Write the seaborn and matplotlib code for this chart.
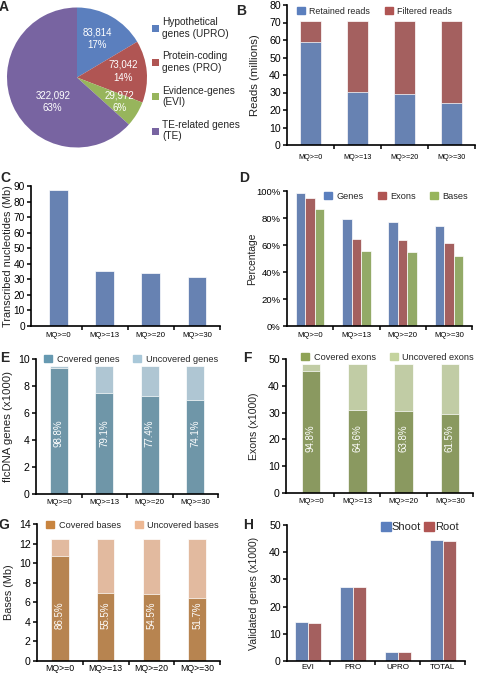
import pandas as pd
import matplotlib
matplotlib.use("Agg")
import matplotlib.pyplot as plt
from matplotlib.patches import Patch
import numpy as np
import seaborn as sns

# ---- data ----
pie_names = ["Hypothetical\ngenes (UPRO)", "Protein-coding\ngenes (PRO)",
             "Evidence-genes\n(EVI)", "TE-related genes\n(TE)"]
pie_counts = [83814, 73042, 29972, 322092]
pie_pct = ["17%", "14%", "6%", "63%"]

mq = ["MQ>=0", "MQ>=13", "MQ>=20", "MQ>=30"]

reads_total = [71, 71, 71, 71]
reads_retained = [59, 30.5, 29, 24.2]

transcribed_mb = [87.6, 35.1, 34.0, 31.3]

pct_genes = [98.8, 79.1, 77.4, 74.1]
pct_exons = [94.8, 64.6, 63.8, 61.5]
pct_bases = [86.5, 55.5, 54.5, 51.7]

flc_total = [9.45, 9.45, 9.45, 9.45]
flc_covered = [9.33, 7.48, 7.26, 6.96]
flc_labels = ["98.8%", "79.1%", "77.4%", "74.1%"]

exon_total = [48.0, 48.0, 48.0, 48.0]
exon_covered = [45.4, 30.8, 30.5, 29.4]
exon_labels = ["94.8%", "64.6%", "63.8%", "61.5%"]

base_total = [12.46, 12.46, 12.46, 12.46]
base_covered = [10.76, 6.95, 6.84, 6.47]
base_labels = ["86.5%", "55.5%", "54.5%", "51.7%"]

gene_class = ["EVI", "PRO", "UPRO", "TOTAL"]
shoot = [14.5, 27.3, 3.3, 44.5]
root = [14.0, 27.3, 3.3, 44.1]

# ---- colours ----
BLUE, RED, GREEN, PURPLE = "#5b7fbe", "#b05553", "#97b55c", "#7864a1"
TEAL, TEAL_L = "#6699b1", "#a9c8d9"
OLIVE, OLIVE_L = "#8fa356", "#c4d39e"
ORANGE, ORANGE_L = "#c8843f", "#edb894"

sns.set_theme(style="ticks")
plt.rcParams["font.family"] = ["Liberation Sans", "DejaVu Sans"]
plt.rcParams["axes.edgecolor"] = "black"

W, H = 478, 673
fig = plt.figure(figsize=(W / 100, H / 100), dpi=100)


def rect(l, t, r, b):
    return [l / W, 1 - b / H, (r - l) / W, (b - t) / H]


def fpt(x, y):
    return (x / W, 1 - y / H)


def style_ax(ax, xlim, ylim, yticks, xfs=5.5, yfs=7.5, xpad=4):
    ax.set_xlim(*xlim)
    ax.set_ylim(*ylim)
    ax.set_yticks(yticks)
    sns.despine(ax=ax)
    ax.set_xticks([0.5, 1.5, 2.5, 3.5], minor=True)
    ax.tick_params(axis="x", which="major", length=0, labelsize=xfs, pad=xpad,
                   colors="black")
    ax.tick_params(axis="x", which="minor", length=3, width=1.1, color="black")
    ax.tick_params(axis="y", length=3, width=1.1, labelsize=yfs, pad=1.5,
                   colors="black")
    for s in ["left", "bottom"]:
        ax.spines[s].set_linewidth(1.2)
    ax.set_xlabel("")


def ylab(ax, text, x_px, l, r, fs):
    # x_px is the centre of the rotated label; the anchor is its right edge
    ax.set_ylabel(text, fontsize=fs, color="#222222")
    edge = x_px + fs * 1.39 * 0.6
    ax.yaxis.set_label_coords((edge - l) / (r - l), 0.5)


def leg(ax, handles, labels, x, y, fs, spacing=1.8, tpad=0.5):
    ax.legend(handles, labels, loc="center left", bbox_to_anchor=fpt(x, y),
              bbox_transform=fig.transFigure, ncol=len(labels),
              frameon=False, fontsize=fs, handlelength=0.9, handleheight=0.9,
              handletextpad=tpad, columnspacing=spacing, borderpad=0,
              borderaxespad=0)


def bar_kw(w):
    return dict(width=w, errorbar=None, edgecolor="white", linewidth=0.5)


# ---- A: pie ----
axA = fig.add_axes(rect(7, 7, 147, 148))
wedges, _ = axA.pie(pie_counts, colors=[BLUE, RED, GREEN, PURPLE],
                    startangle=90, counterclock=False,
                    wedgeprops=dict(linewidth=0))
axA.set_xlim(-1, 1)
axA.set_ylim(-1, 1)
axA.set_aspect("equal")
lab_r = [0.62, 0.66, 0.70, 0.49]
lab_shift = [-2, -3, -2, -21]
for w, c, p, r, s in zip(wedges, pie_counts, pie_pct, lab_r, lab_shift):
    ang = np.deg2rad((w.theta1 + w.theta2) / 2 - s)
    axA.text(r * np.cos(ang), r * np.sin(ang), f"{c:,}\n{p}", color="white",
             ha="center", va="center", fontsize=7, linespacing=1.35)
axA.legend(wedges, pie_names, loc="upper left", bbox_to_anchor=fpt(152, 17),
           bbox_transform=fig.transFigure, frameon=False, fontsize=7.3,
           handlelength=0.7, handleheight=0.7, handletextpad=0.3,
           labelspacing=1.25, borderpad=0, borderaxespad=0)

# ---- B: reads ----
l, t, r, b = 287, 5, 475, 145
axB = fig.add_axes(rect(l, t, r, b))
sns.barplot(x=mq, y=reads_total, color=RED, ax=axB, **bar_kw(0.43))
sns.barplot(x=mq, y=reads_retained, color=BLUE, ax=axB, **bar_kw(0.43))
style_ax(axB, (-0.5, 3.5), (0, 80), range(0, 81, 10), xfs=5.2, yfs=7.6, xpad=6.5)
ylab(axB, "Reads (millions)", 253, l, r, 8.2)
leg(axB, [Patch(color=BLUE), Patch(color=RED)],
    ["Retained reads", "Filtered reads"], 297, 11, 6.4, spacing=1.8, tpad=0.4)

# ---- C: transcribed nucleotides ----
l, t, r, b = 31, 186, 220, 326
axC = fig.add_axes(rect(l, t, r, b))
sns.barplot(x=mq, y=transcribed_mb, color=BLUE, ax=axC, **bar_kw(0.41))
style_ax(axC, (-0.6, 3.5), (0, 90), range(0, 91, 10), xfs=5.6, yfs=7.3, xpad=4)
ylab(axC, "Transcribed nucleotides (Mb)", 6, l, r, 7.8)

# ---- D: percentage ----
l, t, r, b = 287, 191, 472, 326
axD = fig.add_axes(rect(l, t, r, b))
dfD = pd.DataFrame({"mq": mq * 3,
                    "kind": ["Genes"] * 4 + ["Exons"] * 4 + ["Bases"] * 4,
                    "pct": pct_genes + pct_exons + pct_bases})
sns.barplot(data=dfD, x="mq", y="pct", hue="kind", palette=[BLUE, RED, GREEN],
            ax=axD, legend=False, **bar_kw(0.62))
style_ax(axD, (-0.5, 3.5), (0, 100), range(0, 101, 20), xfs=5.6, yfs=6.8, xpad=4)
axD.set_yticklabels([f"{v}%" for v in range(0, 101, 20)])
ylab(axD, "Percentage", 251, l, r, 7.4)
leg(axD, [Patch(color=BLUE), Patch(color=RED), Patch(color=GREEN)],
    ["Genes", "Exons", "Bases"], 324, 196, 6.6, spacing=1.5, tpad=0.5)


def stacked(ax, total, covered, labels, dark, light, w, label_y, fs=7.0):
    sns.barplot(x=mq, y=total, color=light, ax=ax, **bar_kw(w))
    sns.barplot(x=mq, y=covered, color=dark, ax=ax, **bar_kw(w))
    for i, s in enumerate(labels):
        ax.text(i, label_y, s, rotation=90, color="white", ha="center",
                va="center", fontsize=fs)


# ---- E: flcDNA genes ----
l, t, r, b = 36, 359, 218, 494
axE = fig.add_axes(rect(l, t, r, b))
stacked(axE, flc_total, flc_covered, flc_labels, TEAL, TEAL_L, 0.4, 4.5)
style_ax(axE, (-0.5, 3.5), (0, 10), range(0, 11, 2), xfs=5.6, yfs=7.6, xpad=3.6)
ylab(axE, "flcDNA genes (x1000)", 6, l, r, 8.2)
leg(axE, [Patch(color=TEAL), Patch(color=TEAL_L)],
    ["Covered genes", "Uncovered genes"], 44, 359, 6.6, spacing=1.5, tpad=0.5)

# ---- F: exons ----
l, t, r, b = 286, 359, 473, 493
axF = fig.add_axes(rect(l, t, r, b))
stacked(axF, exon_total, exon_covered, exon_labels, OLIVE, OLIVE_L, 0.4, 20.4)
style_ax(axF, (-0.54, 3.5), (0, 50), range(0, 51, 10), xfs=5.6, yfs=7.6, xpad=3.6)
ylab(axF, "Exons (x1000)", 253, l, r, 7.6)
leg(axF, [Patch(color=OLIVE), Patch(color=OLIVE_L)],
    ["Covered exons", "Uncovered exons"], 301, 357, 6.6, spacing=1.5, tpad=0.5)

# ---- G: bases ----
l, t, r, b = 37, 524, 220, 661
axG = fig.add_axes(rect(l, t, r, b))
stacked(axG, base_total, base_covered, base_labels, ORANGE, ORANGE_L, 0.38, 4.7)
style_ax(axG, (-0.5, 3.5), (0, 14), range(0, 15, 2), xfs=6.3, yfs=7.6, xpad=2)
ylab(axG, "Bases (Mb)", 7, l, r, 7.8)
leg(axG, [Patch(color=ORANGE), Patch(color=ORANGE_L)],
    ["Covered bases", "Uncovered bases"], 46, 525, 6.6, spacing=1.5, tpad=0.5)

# ---- H: validated genes ----
l, t, r, b = 287, 525, 465, 661
axH = fig.add_axes(rect(l, t, r, b))
dfH = pd.DataFrame({"cls": gene_class * 2,
                    "tissue": ["Shoot"] * 4 + ["Root"] * 4,
                    "n": shoot + root})
sns.barplot(data=dfH, x="cls", y="n", hue="tissue", palette=[BLUE, RED],
            ax=axH, legend=False, **bar_kw(0.58))
style_ax(axH, (-0.47, 3.5), (0, 50), range(0, 51, 10), xfs=5.8, yfs=7.6, xpad=2.2)
ylab(axH, "Validated genes (x1000)", 253, l, r, 7.6)
leg(axH, [Patch(color=BLUE), Patch(color=RED)], ["Shoot", "Root"],
    381, 527, 8, spacing=0.3, tpad=0.05)

# ---- panel letters ----
for txt, x, y in [("A", 4, 7), ("B", 241, 11), ("C", 5, 178), ("D", 244, 178),
                  ("E", 5, 358), ("F", 247, 358), ("G", 4, 525), ("H", 248, 525)]:
    fig.text(*fpt(x, y), txt, fontsize=10, fontweight="bold", ha="center",
             va="center")

fig.savefig("out.png", dpi=100)
